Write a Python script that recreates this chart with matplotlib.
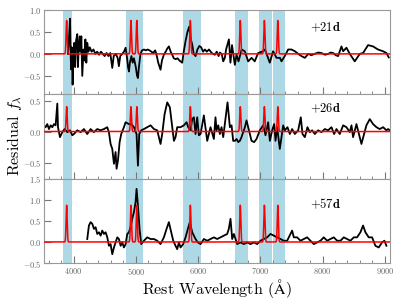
import numpy as np
import matplotlib
matplotlib.use("Agg")
import matplotlib.pyplot as plt
from matplotlib.ticker import MultipleLocator

plt.rcParams['font.family'] = 'cmr10'
plt.rcParams['mathtext.fontset'] = 'cm'
plt.rcParams['axes.formatter.use_mathtext'] = True

# He I line positions (Angstrom) and shaded windows
HEI_LINES = [3889, 4922, 5016, 5876, 6678, 7065, 7281]
BANDS = [(3825, 3980), (4850, 5120), (5750, 6055), (6600, 6795), (6975, 7182), (7196, 7393)]

EPOCHS = ["+21d", "+26d", "+57d"]
MODEL_PEAK = [0.76, 0.40, 0.87]

# residual spectra
wave_21 = [3910, 3925, 3943, 3952, 3960, 3970, 3985, 3995, 4010, 4025, 4040, 4060, 4070, 4085,
           4100, 4113, 4125, 4140, 4160, 4175, 4190, 4205, 4220, 4240, 4260, 4290, 4320, 4350,
           4380, 4410, 4440, 4470, 4500, 4530, 4560, 4590, 4622, 4645, 4680, 4710, 4728, 4750,
           4780, 4810, 4836, 4860, 4875, 4890, 4905, 4930, 4950, 4970, 5000, 5020, 5034, 5050,
           5075, 5100, 5130, 5160, 5190, 5220, 5250, 5280, 5310, 5330, 5360, 5397, 5420, 5450,
           5480, 5505, 5531, 5560, 5585, 5610, 5640, 5670, 5700, 5745, 5770, 5800, 5830, 5857,
           5880, 5905, 5930, 5960, 5990, 6020, 6050, 6080, 6110, 6140, 6175, 6220, 6270, 6300,
           6330, 6350, 6380, 6404, 6430, 6450, 6495, 6520, 6545, 6565, 6591, 6618, 6650, 6700,
           6750, 6805, 6860, 6910, 6965, 7045, 7075, 7100, 7152, 7205, 7260, 7315, 7340, 7393,
           7447, 7500, 7555, 7610, 7660, 7715, 7770, 7820, 7870, 7930, 7980, 8040, 8090, 8130,
           8170, 8210, 8250, 8303, 8330, 8383, 8437, 8517, 8597, 8650, 8731, 8810, 8890, 8970,
           9025, 9063]
res_21 = [0.0, 0.3, 0.8, 0.1, -0.35, 0.15, -0.7, -0.2, 0.25, -0.3, 0.3, 0.45, -0.3, 0.2,
          0.4, 0.05, 0.4, -0.5, 0.1, -0.15, 0.33, -0.2, 0.25, 0.05, 0.15, 0.05, 0.1, 0.0,
          0.05, -0.02, 0.05, 0.0, -0.05, 0.02, -0.05, 0.02, -0.32, -0.05, 0.0, -0.1, -0.28, -0.05,
          0.0, 0.05, 0.14, -0.1, -0.3, -0.4, -0.2, -0.05, -0.2, -0.1, -0.3, -0.5, -0.55, -0.3,
          0.0, 0.08, 0.1, 0.08, 0.1, 0.08, 0.05, 0.02, 0.08, 0.0, -0.2, -0.36, -0.15, -0.02,
          0.05, 0.12, 0.17, 0.05, -0.02, -0.1, -0.12, -0.1, -0.15, -0.2, 0.05, 0.3, 0.5, 0.62,
          0.35, 0.22, 0.0, -0.05, 0.1, 0.18, 0.15, 0.05, 0.1, 0.05, 0.1, 0.02, -0.02, 0.05,
          -0.05, 0.03, 0.0, -0.17, -0.09, 0.1, 0.33, -0.2, 0.2, 0.0, -0.25, -0.02, -0.17, 0.1,
          0.06, -0.17, -0.09, -0.17, 0.02, 0.06, 0.1, 0.0, -0.2, 0.06, -0.09, -0.09, -0.17, -0.05,
          0.1, 0.1, 0.06, 0.0, -0.05, -0.09, 0.0, -0.03, 0.0, 0.03, 0.02, -0.02, 0.0, 0.03,
          0.02, -0.03, -0.05, 0.17, 0.06, 0.14, 0.0, -0.17, 0.0, 0.02, 0.2, 0.17, 0.1, 0.06,
          0.02, -0.08]

wave_26 = [3525, 3552, 3578, 3605, 3632, 3659, 3685, 3712, 3739, 3750, 3782, 3819, 3857, 3900,
           3942, 3980, 4006, 4060, 4113, 4167, 4220, 4274, 4327, 4381, 4434, 4488, 4541, 4568,
           4595, 4622, 4649, 4675, 4691, 4713, 4740, 4766, 4809, 4836, 4889, 4927, 4970, 5012,
           5034, 5055, 5087, 5130, 5184, 5237, 5291, 5344, 5397, 5424, 5462, 5505, 5547, 5585,
           5612, 5638, 5665, 5719, 5772, 5815, 5842, 5879, 5906, 5933, 5959, 5986, 6013, 6040,
           6093, 6147, 6200, 6254, 6280, 6297, 6324, 6350, 6377, 6404, 6430, 6473, 6511, 6538,
           6564, 6591, 6618, 6645, 6671, 6698, 6752, 6778, 6805, 6859, 6901, 6939, 6992, 7046,
           7083, 7126, 7153, 7190, 7222, 7244, 7270, 7313, 7340, 7367, 7394, 7436, 7474, 7511,
           7554, 7608, 7650, 7677, 7715, 7757, 7795, 7832, 7875, 7929, 7982, 8036, 8089, 8143,
           8185, 8223, 8276, 8330, 8383, 8437, 8464, 8490, 8544, 8597, 8624, 8667, 8704, 8758,
           8811, 8865, 8918, 8972, 9025, 9052, 9079]
res_26 = [0.1, 0.07, 0.12, 0.04, 0.1, 0.07, 0.12, 0.1, 0.45, 0.07, -0.09, -0.01, 0.04, -0.01,
          0.02, -0.06, -0.04, 0.02, -0.01, 0.04, -0.04, 0.04, -0.01, 0.04, 0.02, 0.04, 0.07, -0.01,
          -0.2, -0.28, -0.52, -0.33, -0.6, -0.47, -0.17, -0.04, 0.07, 0.15, 0.12, 0.12, 0.07, -0.04,
          -0.55, -0.04, 0.02, 0.04, 0.07, 0.1, 0.04, 0.02, -0.2, -0.04, 0.28, 0.47, 0.39, 0.07,
          -0.15, -0.09, 0.07, 0.07, 0.1, 0.15, 0.07, 0.02, 0.2, 0.23, -0.04, 0.23, -0.06, -0.04,
          0.26, -0.15, 0.07, -0.12, 0.23, 0.02, 0.1, -0.04, 0.07, -0.09, 0.12, 0.47, 0.07, 0.1,
          -0.15, -0.15, -0.12, -0.17, -0.15, -0.09, 0.07, 0.18, 0.07, -0.15, -0.17, -0.12, 0.02, 0.1,
          -0.06, 0.15, -0.15, 0.02, 0.12, -0.15, 0.07, -0.28, -0.09, 0.1, 0.02, 0.07, -0.04, 0.04,
          -0.04, 0.02, 0.23, -0.04, -0.09, 0.07, -0.01, 0.02, -0.04, 0.02, -0.01, 0.04, 0.02, 0.07,
          -0.04, 0.04, -0.04, 0.1, 0.07, -0.01, 0.1, -0.09, 0.12, -0.09, -0.2, -0.04, 0.1, 0.2,
          0.12, 0.07, 0.04, 0.07, 0.02, 0.04, 0.02]

wave_57 = [4220, 4247, 4274, 4301, 4328, 4354, 4381, 4408, 4435, 4461, 4488, 4515, 4542, 4568,
           4595, 4622, 4649, 4675, 4702, 4729, 4756, 4782, 4809, 4836, 4863, 4889, 4916, 4943,
           4970, 4996, 5012, 5034, 5060, 5087, 5130, 5184, 5237, 5291, 5344, 5397, 5451, 5494,
           5531, 5569, 5601, 5638, 5665, 5692, 5719, 5761, 5799, 5836, 5868, 5906, 5933, 5959,
           5997, 6040, 6093, 6147, 6200, 6254, 6307, 6361, 6414, 6468, 6494, 6521, 6548, 6575,
           6628, 6682, 6735, 6789, 6842, 6896, 6949, 7003, 7056, 7110, 7163, 7217, 7270, 7324,
           7377, 7431, 7484, 7511, 7538, 7591, 7645, 7698, 7752, 7805, 7859, 7912, 7966, 8019,
           8073, 8126, 8180, 8233, 8287, 8340, 8394, 8447, 8501, 8554, 8608, 8650, 8688, 8741,
           8795, 8848, 8902, 8955, 8993, 9025]
res_57 = [0.07, 0.39, 0.47, 0.43, 0.31, 0.35, 0.19, 0.23, 0.15, 0.27, 0.19, 0.23, 0.11, -0.09,
          -0.05, -0.29, -0.13, -0.01, 0.11, 0.07, -0.09, -0.01, -0.13, -0.05, 0.19, 0.23, 0.35, 0.55,
          0.71, 0.94, 1.26, 0.87, 0.31, -0.05, 0.03, 0.11, 0.07, 0.07, 0.03, -0.05, 0.11, 0.31,
          0.47, 0.23, 0.03, -0.09, -0.17, -0.01, -0.13, -0.05, 0.11, 0.31, 0.47, 0.23, 0.15, 0.07,
          -0.01, -0.05, 0.07, 0.03, 0.07, 0.11, 0.07, 0.11, 0.15, 0.19, 0.31, 0.55, 0.07, 0.19,
          -0.05, -0.01, -0.05, -0.01, -0.05, -0.01, -0.05, 0.03, 0.07, 0.11, 0.19, 0.15, 0.11, 0.07,
          0.03, 0.03, 0.19, 0.27, 0.11, 0.11, 0.03, 0.07, 0.11, 0.03, -0.05, -0.01, 0.03, 0.11,
          0.03, 0.07, 0.11, 0.03, 0.03, 0.11, 0.07, 0.03, 0.11, 0.11, 0.23, 0.39, 0.23, 0.11,
          0.11, -0.09, -0.13, -0.01, 0.03, -0.09]

WAVES = [wave_21, wave_26, wave_57]
RESID = [res_21, res_26, res_57]
YLIMS = [(-0.92, 1.0), (-0.76, 0.6), (-0.5, 1.5)]
LABEL_Y = [0.79, 0.83, 0.70]

XMIN, XMAX = 3530, 9080
LINE_SIGMA = 9.0

fig, axes = plt.subplots(3, 1, figsize=(3.99, 3.01), dpi=100, sharex=True)
fig.subplots_adjust(left=0.111, right=0.977, bottom=0.126, top=0.967, hspace=0)

grid = np.linspace(XMIN, XMAX, 6000)
for i, ax in enumerate(axes):
    for lo, hi in BANDS:
        ax.axvspan(lo, hi, color='#add8e6', lw=0, zorder=0)
    model = np.zeros_like(grid)
    for c in HEI_LINES:
        model += MODEL_PEAK[i] * np.exp(-0.5 * ((grid - c) / LINE_SIGMA) ** 2)
    ax.plot(WAVES[i], RESID[i], color='black', lw=1.3, zorder=2)
    ax.plot(grid, model, color='red', lw=1.1, zorder=3)
    ax.set_xlim(XMIN, XMAX)
    ax.set_ylim(*YLIMS[i])
    ax.yaxis.set_major_locator(MultipleLocator(0.5))
    ax.xaxis.set_major_locator(MultipleLocator(1000))
    ax.xaxis.set_minor_locator(MultipleLocator(200))
    ax.tick_params(which='both', direction='in', labelsize=6, colors='#777777',
                   labelcolor='#666666', pad=2)
    ax.tick_params(which='major', length=5, width=0.8)
    ax.tick_params(which='minor', length=2.5, width=0.6)
    for s in ax.spines.values():
        s.set_color('#999999')
        s.set_linewidth(0.8)
    ax.text(0.815, LABEL_Y[i], r'$\mathbf{' + EPOCHS[i] + '}$', transform=ax.transAxes,
            ha='center', va='center', fontsize=9)

axes[2].set_xlabel(r'Rest Wavelength ($\mathrm{\AA}$)', fontsize=11.5, labelpad=0)
fig.text(0.038, 0.55, r'Residual $f_\lambda$', rotation=90, ha='center', va='center', fontsize=11.5)

plt.savefig('out.png', dpi=100)
